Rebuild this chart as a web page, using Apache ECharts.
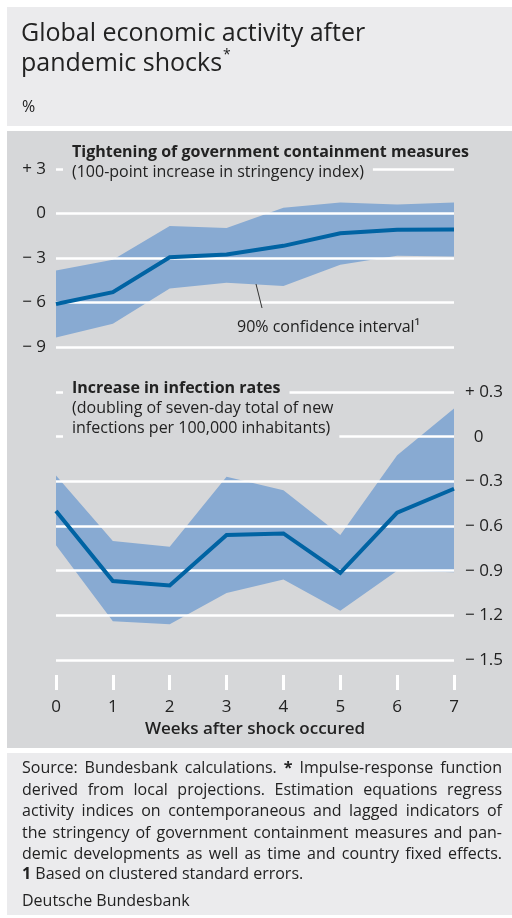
<!DOCTYPE html>
<html>
<head>
<meta charset="utf-8">
<script src="https://cdn.jsdelivr.net/npm/echarts@6/dist/echarts.min.js"></script>
<style>
  html, body { margin: 0; padding: 0; background: #ffffff; }
  #chart { width: 512px; height: 918px; }
</style>
</head>
<body>
<div id="chart"></div>
<script>
// Weeks after the shock (x axis)
const weeks = ['0', '1', '2', '3', '4', '5', '6', '7'];

// Upper panel: response to tightening of containment measures (%)
const stringencyEffect = [-6.1, -5.3, -2.95, -2.77, -2.18, -1.33, -1.1, -1.08];
const stringencyUpper  = [-3.84, -3.12, -0.85, -0.97, 0.38, 0.74, 0.61, 0.74];
const stringencyLower  = [-8.36, -7.44, -5.06, -4.67, -4.88, -3.46, -2.85, -2.9];

// Lower panel: response to increase in infection rates (%)
const infectionEffect = [-0.50, -0.97, -1.00, -0.66, -0.65, -0.915, -0.51, -0.35];
const infectionUpper  = [-0.26, -0.70, -0.74, -0.27, -0.36, -0.66, -0.125, 0.19];
const infectionLower  = [-0.73, -1.24, -1.26, -1.05, -0.96, -1.17, -0.90, -0.91];

// Tick labels
const stringencyTickLabels = ['\u2212 9', '\u2212 6', '\u2212 3', '0', '+ 3'];
const infectionTickLabels  = ['\u2212 1.5', '\u2212 1.2', '\u2212 0.9', '\u2212 0.6', '\u2212 0.3', '0', '+ 0.3'];

const FONT = '"Open Sans", "Noto Sans", sans-serif';
const INK = '#222222';
const HEAD_BG = '#ebebed';
const PANEL_BG = '#d6d7d9';
const BAND = '#88aad2';
const LINE = '#0063a3';
const TICK_SIZE = 17;

const measureCtx = document.createElement('canvas').getContext('2d');
function textWidth(str, font) {
  measureCtx.font = font;
  return measureCtx.measureText(str).width;
}

// Confidence band drawn as a stacked area: invisible lower bound + filled width
function bandSeries(stackName, gridIdx, lower, upper) {
  return [
    {
      type: 'line', xAxisIndex: gridIdx, yAxisIndex: gridIdx,
      stack: stackName, stackStrategy: 'all',
      data: lower, symbol: 'none', silent: true, z: -1,
      lineStyle: { opacity: 0 }
    },
    {
      type: 'line', xAxisIndex: gridIdx, yAxisIndex: gridIdx,
      stack: stackName, stackStrategy: 'all',
      data: upper.map((u, i) => +(u - lower[i]).toFixed(4)),
      symbol: 'none', silent: true, z: -1,
      lineStyle: { opacity: 0 },
      areaStyle: { color: BAND, opacity: 1 }
    }
  ];
}

function effectSeries(gridIdx, values) {
  return {
    type: 'line', xAxisIndex: gridIdx, yAxisIndex: gridIdx,
    data: values, symbol: 'none', silent: true, z: 5,
    lineStyle: { color: LINE, width: 4, join: 'miter' }
  };
}

function tickFormatter(labels, min, step) {
  return v => labels[Math.round((v - min) / step)] ?? '';
}

// ---- Static text and backgrounds ----
const graphics = [];
graphics.push({ type: 'rect', z: -20, shape: { x: 7, y: 7, width: 505, height: 119 }, style: { fill: HEAD_BG } });
graphics.push({ type: 'rect', z: -20, shape: { x: 7, y: 131, width: 505, height: 617 }, style: { fill: PANEL_BG } });
graphics.push({ type: 'rect', z: -20, shape: { x: 7, y: 753, width: 505, height: 162 }, style: { fill: HEAD_BG } });

const titleFont = '25px ' + FONT;
graphics.push({ type: 'text', z: 10, x: 21, y: 34, style: { text: 'Global economic activity after', font: titleFont, fill: INK, verticalAlign: 'middle' } });
graphics.push({ type: 'text', z: 10, x: 21, y: 64, style: { text: 'pandemic shocks', font: titleFont, fill: INK, verticalAlign: 'middle' } });
graphics.push({ type: 'text', z: 10, x: 21 + textWidth('pandemic shocks', titleFont) + 1, y: 55, style: { text: '*', font: '14px ' + FONT, fill: INK, verticalAlign: 'middle' } });
graphics.push({ type: 'text', z: 10, x: 22, y: 107, style: { text: '%', font: '16px ' + FONT, fill: INK, verticalAlign: 'middle' } });

// Panel headings sit on boxes of panel colour so grid lines stop around them
function heading(text, x, y, bold) {
  return {
    type: 'text', z: 10, x: x - 9, y: y,
    style: {
      text: text, font: (bold ? 'bold ' : '') + '16px ' + FONT, fill: INK,
      verticalAlign: 'middle', backgroundColor: PANEL_BG, padding: [3, 9, 3, 9]
    }
  };
}
graphics.push(heading('Tightening of government containment measures', 72, 152, true));
graphics.push(heading('(100-point increase in stringency index)', 72, 172, false));
graphics.push(heading('Increase in infection rates', 72, 388, true));
graphics.push(heading('(doubling of seven-day total of new', 72, 408, false));
graphics.push(heading('infections per 100,000 inhabitants)', 72, 428, false));

// Confidence interval annotation
graphics.push({ type: 'line', z: 10, shape: { x1: 256, y1: 284, x2: 262, y2: 308 }, style: { stroke: '#333', lineWidth: 1 } });
graphics.push({ type: 'text', z: 10, x: 237, y: 327, style: { text: '90% confidence interval\u00b9', font: '16px ' + FONT, fill: INK, verticalAlign: 'middle' } });

// ---- Footnotes (justified) ----
const noteSize = 16;
const noteFont = noteSize + 'px ' + FONT;
const noteBold = 'bold ' + noteSize + 'px ' + FONT;
const noteLines = [
  { y: 768, justify: true,  words: [['Source:'], ['Bundesbank'], ['calculations.'], ['*', true], ['Impulse-response'], ['function']] },
  { y: 790, justify: true,  words: 'derived from local projections. Estimation equations regress'.split(' ').map(w => [w]) },
  { y: 811, justify: true,  words: 'activity indices on contemporaneous and lagged indicators of'.split(' ').map(w => [w]) },
  { y: 833, justify: true,  words: 'the stringency of government containment measures and pan-'.split(' ').map(w => [w]) },
  { y: 854, justify: true,  words: 'demic developments as well as time and country fixed effects.'.split(' ').map(w => [w]) },
  { y: 874, justify: false, words: [['1', true]].concat('Based on clustered standard errors.'.split(' ').map(w => [w])) },
  { y: 901, justify: false, words: [['Deutsche'], ['Bundesbank']] }
];
const noteLeft = 22, noteRight = 502;
noteLines.forEach(line => {
  const widths = line.words.map(([w, b]) => textWidth(w, b ? noteBold : noteFont));
  const total = widths.reduce((a, b) => a + b, 0);
  const gap = line.justify ? (noteRight - noteLeft - total) / (line.words.length - 1) : textWidth(' ', noteFont);
  let x = noteLeft;
  line.words.forEach(([w, b], i) => {
    graphics.push({ type: 'text', z: 10, x: x, y: line.y, style: { text: w, font: b ? noteBold : noteFont, fill: INK, verticalAlign: 'middle' } });
    x += widths[i] + gap;
  });
});

const chart = echarts.init(document.getElementById('chart'));
chart.setOption({
  animation: false,
  backgroundColor: '#ffffff',
  textStyle: { fontFamily: FONT },
  grid: [
    { left: 56, top: 169, width: 398, height: 178 },
    { left: 56, top: 392, width: 398, height: 268 }
  ],
  xAxis: [
    { gridIndex: 0, type: 'category', data: weeks, boundaryGap: false, show: false },
    {
      gridIndex: 1, type: 'category', data: weeks, boundaryGap: false, offset: 15,
      axisLine: { show: false, onZero: false },
      axisTick: { show: true, length: 15, lineStyle: { color: '#ffffff', width: 3 } },
      axisLabel: { margin: 24, fontSize: TICK_SIZE, color: INK, fontFamily: FONT },
      splitLine: { show: false },
      name: 'Weeks after shock occured', nameLocation: 'middle', nameGap: 46,
      nameTextStyle: { fontSize: 17, fontWeight: 600, color: INK, fontFamily: FONT }
    }
  ],
  yAxis: [
    {
      gridIndex: 0, type: 'value', min: -9, max: 3, interval: 3, position: 'left',
      axisLine: { show: false }, axisTick: { show: false },
      axisLabel: { margin: 10, fontSize: TICK_SIZE, color: INK, fontFamily: FONT,
        formatter: tickFormatter(stringencyTickLabels, -9, 3) },
      splitLine: { lineStyle: { color: '#ffffff', width: 2.5 } }
    },
    {
      gridIndex: 1, type: 'value', min: -1.5, max: 0.3, interval: 0.3, position: 'right',
      axisLine: { show: false }, axisTick: { show: false },
      axisLabel: { margin: 11, fontSize: TICK_SIZE, color: INK, fontFamily: FONT, align: 'left',
        formatter: v => {
          const s = tickFormatter(infectionTickLabels, -1.5, 0.3)(v);
          return s === '0' ? '  0' : s;
        } },
      splitLine: { lineStyle: { color: '#ffffff', width: 2.5 } }
    }
  ],
  series: [
    ...bandSeries('stringencyBand', 0, stringencyLower, stringencyUpper),
    effectSeries(0, stringencyEffect),
    ...bandSeries('infectionBand', 1, infectionLower, infectionUpper),
    effectSeries(1, infectionEffect)
  ],
  graphic: { elements: graphics }
});
</script>
</body>
</html>
